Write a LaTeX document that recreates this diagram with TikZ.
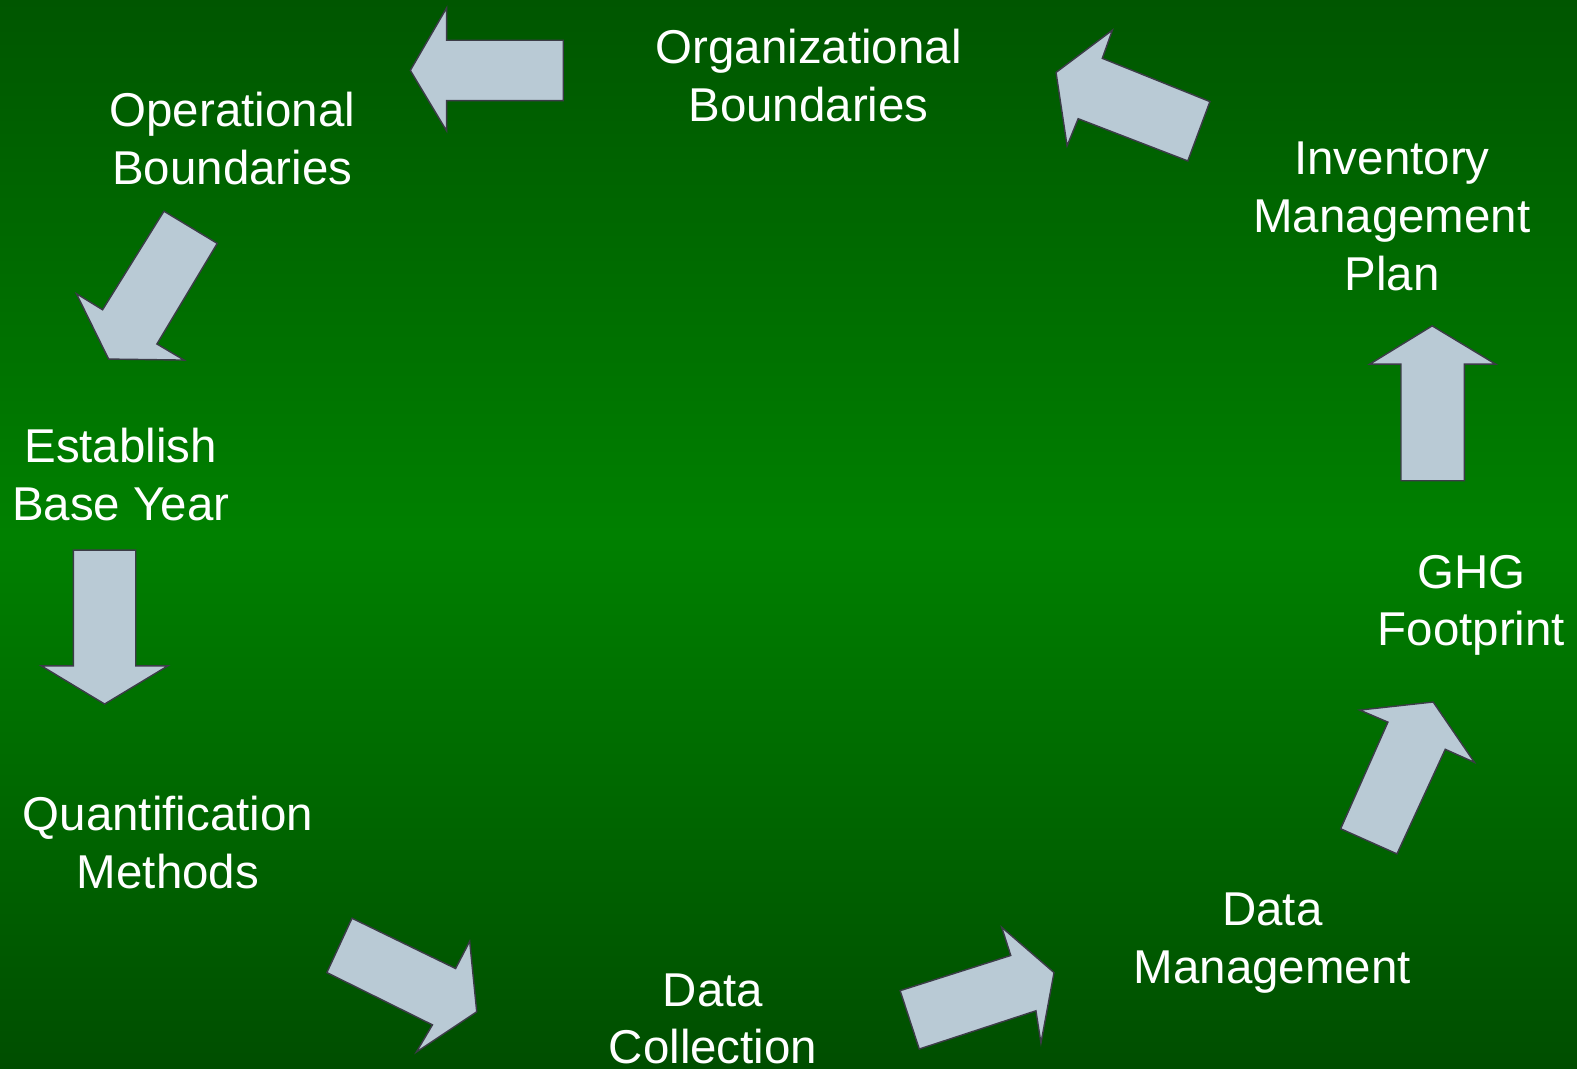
\documentclass[tikz,border=0pt]{standalone}
\usepackage{fontspec}
\setmainfont{Liberation Sans}
\usepackage{tikz}
\usetikzlibrary{arrows.meta,shapes}

\definecolor{bgtop}{RGB}{0,86,0}
\definecolor{bgmid}{RGB}{0,128,0}
\definecolor{bgbot}{RGB}{0,78,0}
\definecolor{arrowfill}{RGB}{185,202,213}
\definecolor{arrowline}{RGB}{60,60,72}

\begin{document}
\begin{tikzpicture}[x=0.5pt,y=-0.5pt,
    every node/.style={inner sep=0pt,minimum size=0pt},
    steplabel/.style={text=white,align=center,font=\fontsize{23.6}{28.7}\selectfont},
    blockarrow/.style={draw=arrowline,fill=arrowfill,line width=0.7pt,line join=miter}]

    \useasboundingbox (0,0) rectangle (1568,1062);
    \shade[top color=bgtop,bottom color=bgbot,middle color=bgmid] (0,0) rectangle (1568,1062);

    \node(org)[steplabel] at (804,75) {Organizational\\Boundaries};
    \node(oper)[steplabel] at (231,138) {Operational\\Boundaries};
    \node(base)[steplabel] at (120,472) {Establish\\Base Year};
    \node(quant)[steplabel] at (167,838) {Quantification\\Methods};
    \node(collect)[steplabel] at (709,1013) {Data\\Collection};
    \node(manage)[steplabel] at (1265,938) {Data\\Management};
    \node(ghg)[steplabel] at (1463,602) {GHG\\Footprint};
    \node(plan)[steplabel] at (1384,215) {Inventory\\Management\\Plan};

    % arrows between the steps
    \path[blockarrow] (560,40) -- (444,40) -- (444,8) -- (408,70) -- (444,130) -- (444,100) -- (560,100) -- cycle;
    \path[blockarrow] (163,210) -- (216,242) -- (156,342) -- (183,358) -- (108,357) -- (76,292) -- (102,308) -- cycle;
    \path[blockarrow] (73,547) -- (135,547) -- (135,662) -- (167,662) -- (104,700) -- (41,662) -- (73,662) -- cycle;
    \path[blockarrow] (350,913) -- (453,963) -- (467,936) -- (474,1006) -- (414,1046) -- (430,1019) -- (325,967) -- cycle;
    \path[blockarrow] (895,985) -- (1005,950) -- (996,922) -- (1048,967) -- (1035,1037) -- (1030,1005) -- (914,1043) -- cycle;
    \path[blockarrow] (1333,824) -- (1380,718) -- (1352,706) -- (1425,698) -- (1466,758) -- (1437,745) -- (1389,849) -- cycle;
    \path[blockarrow] (1393,478) -- (1393,362) -- (1362,362) -- (1424,324) -- (1487,362) -- (1456,362) -- (1456,478) -- cycle;
    \path[blockarrow] (1203,101) -- (1096,58) -- (1106,30) -- (1050,72) -- (1061,145) -- (1072,118) -- (1181,160) -- cycle;

  \end{tikzpicture}
\end{document}
